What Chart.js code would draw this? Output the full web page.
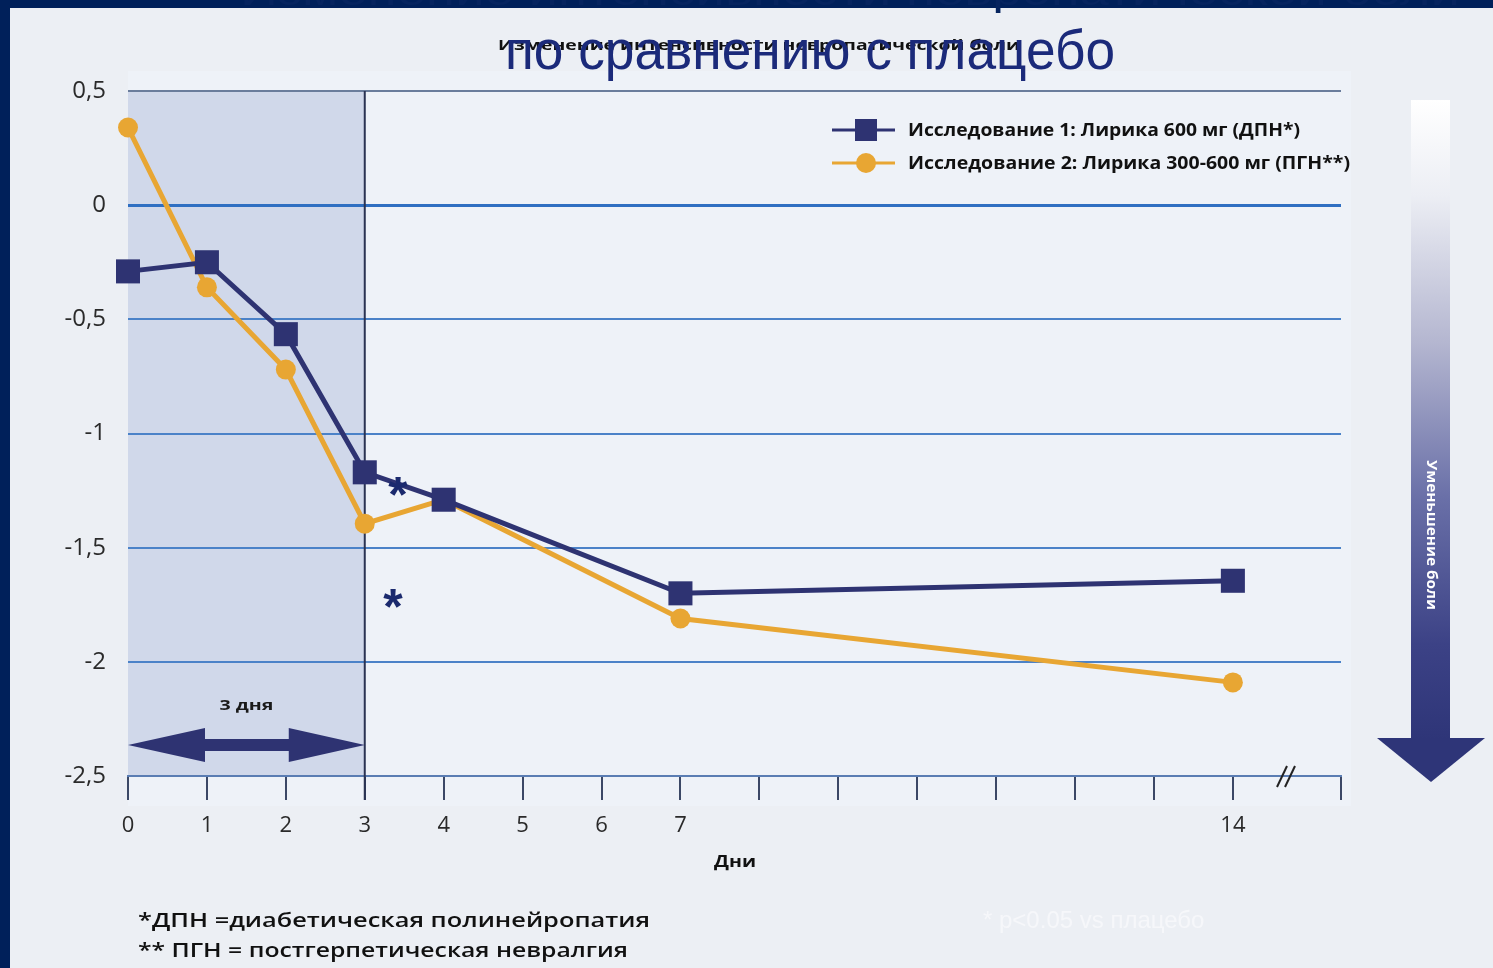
<!DOCTYPE html>
<html>
<head>
<meta charset="utf-8">
<script src="https://cdn.jsdelivr.net/npm/chart.js@4/dist/chart.umd.min.js"></script>
<style>
html,body{margin:0;padding:0;background:#eceff4;overflow:hidden;}
canvas{display:block;}
</style>
</head>
<body>
<canvas id="c" width="1493" height="968" style="width:1493px;height:968px"></canvas>
<script>
// ---- data ----
const days = [0, 1, 2, 3, 4, 7, 14];
const study1 = [-0.29, -0.25, -0.565, -1.17, -1.29, -1.70, -1.645];
const study2 = [0.34, -0.36, -0.72, -1.395, -1.29, -1.81, -2.09];
const seriesNames = ['Исследование 1: Лирика 600 мг (ДПН*)', 'Исследование 2: Лирика 300-600 мг (ПГН**)'];
const xTickPositions = [0,1,2,3,4,5,6,7,8,9,10,11,12,13,14];
const xLabeledDays = [0,1,2,3,4,5,6,7,14];
const xMax = 15.37;
const yTicks = [0.5, 0, -0.5, -1, -1.5, -2, -2.5];
const yTickLabels = ['0,5', '0', '-0,5', '-1', '-1,5', '-2', '-2,5'];
const shadedDays = [0, 3];
const titleSmall = 'Изменение интенсивности невропатической боли';
const titleBig = 'по сравнению с плацебо';
const xAxisTitle = 'Дни';
const shadedLabel = '3 дня';
const arrowLabel = 'Уменьшение боли';
const footnotes = ['*ДПН =диабетическая полинейропатия', '** ПГН = постгерпетическая невралгия'];
const pNote = '* p<0.05 vs плацебо';

const NAVY = '#2e3372';
const ORANGE = '#e8a633';

function fitText(ctx, text, x, y, targetW, align) {
  const w = ctx.measureText(text).width;
  const s = targetW / w;
  ctx.save();
  ctx.translate(x, y);
  ctx.scale(s, 1);
  ctx.textAlign = align || 'left';
  ctx.fillText(text, 0, 0);
  ctx.restore();
}

const decor = {
  id: 'decor',
  beforeDraw(chart) {
    const ctx = chart.ctx;
    const xs = chart.scales.x, ys = chart.scales.y;
    const ca = chart.chartArea;
    ctx.save();
    ctx.fillStyle = '#eceff4';
    ctx.fillRect(0, 0, chart.width, chart.height);
    // plot light panel
    ctx.fillStyle = '#eef2f8';
    ctx.fillRect(ca.left, ca.top - 20, ca.right - ca.left + 10, ca.bottom - ca.top + 50);
    // shaded region
    const x0 = xs.getPixelForValue(shadedDays[0]), x1 = xs.getPixelForValue(shadedDays[1]);
    ctx.fillStyle = '#d0d8ea';
    ctx.fillRect(x0, ys.getPixelForValue(0.5), x1 - x0, ys.getPixelForValue(-2.5) - ys.getPixelForValue(0.5));
    // navy frame
    ctx.fillStyle = '#00205a';
    ctx.fillRect(0, 0, chart.width, 8);
    ctx.fillRect(0, 0, 10, chart.height);
    // hidden slide title in frame
    ctx.fillStyle = '#06245f';
    ctx.font = '40px "Liberation Sans", Arial, sans-serif';
    ctx.textBaseline = 'alphabetic';
    fitText(ctx, 'Изменение интенсивности невропатической боли', 240, 5, 1220, 'left');
    ctx.restore();
  },
  beforeDatasetsDraw(chart) {
    const ctx = chart.ctx;
    const xs = chart.scales.x, ys = chart.scales.y;
    const x0 = xs.getPixelForValue(shadedDays[0]), x1 = xs.getPixelForValue(shadedDays[1]);
    ctx.save();
    // vertical line at day 3
    ctx.strokeStyle = '#2a3352';
    ctx.lineWidth = 2;
    ctx.beginPath();
    ctx.moveTo(x1, ys.getPixelForValue(0.5));
    ctx.lineTo(x1, ys.getPixelForValue(-2.5) + 24);
    ctx.stroke();
    // double arrow
    const ay = 745;
    ctx.fillStyle = NAVY;
    ctx.beginPath();
    ctx.moveTo(x0, ay);
    ctx.lineTo(x0 + 77, ay - 17);
    ctx.lineTo(x0 + 77, ay - 6);
    ctx.lineTo(x1 - 76, ay - 6);
    ctx.lineTo(x1 - 76, ay - 17);
    ctx.lineTo(x1, ay);
    ctx.lineTo(x1 - 76, ay + 17);
    ctx.lineTo(x1 - 76, ay + 6);
    ctx.lineTo(x0 + 77, ay + 6);
    ctx.lineTo(x0 + 77, ay + 17);
    ctx.closePath();
    ctx.fill();
    // 3 дня
    ctx.fillStyle = '#1a1a1a';
    ctx.font = 'bold 14px "Open Sans", sans-serif';
    ctx.textBaseline = 'middle';
    fitText(ctx, shadedLabel, (x0 + x1) / 2, 706, 54, 'center');
    ctx.restore();
  },
  afterDraw(chart) {
    const ctx = chart.ctx;
    ctx.save();
    // titles
    ctx.textBaseline = 'alphabetic';
    ctx.fillStyle = '#111';
    ctx.font = 'bold 15px "Open Sans", sans-serif';
    fitText(ctx, titleSmall, 498, 50, 522, 'left');
    ctx.fillStyle = '#1b2a7a';
    ctx.font = '56px "Liberation Sans", Arial, sans-serif';
    fitText(ctx, titleBig, 505, 69, 610, 'left');

    // legend
    const ly = [130, 163];
    const styles = [
      {c: NAVY, rect: true},
      {c: ORANGE, rect: false}
    ];
    ctx.textBaseline = 'middle';
    for (let i = 0; i < 2; i++) {
      const st = styles[i];
      ctx.strokeStyle = st.c;
      ctx.lineWidth = 3;
      ctx.beginPath();
      ctx.moveTo(832, ly[i]);
      ctx.lineTo(895, ly[i]);
      ctx.stroke();
      ctx.fillStyle = st.c;
      if (st.rect) {
        ctx.fillRect(855, ly[i] - 11, 22, 22);
      } else {
        ctx.beginPath();
        ctx.arc(866, ly[i], 10, 0, Math.PI * 2);
        ctx.fill();
      }
      ctx.fillStyle = '#111';
      ctx.font = 'bold 17px "Open Sans", sans-serif';
      fitText(ctx, seriesNames[i], 908, ly[i] + 1, i === 0 ? 392 : 442, 'left');
    }

    // asterisks
    ctx.fillStyle = '#1b2a6e';
    ctx.font = 'bold 50px "Liberation Sans", Arial, sans-serif';
    ctx.textAlign = 'center';
    ctx.textBaseline = 'middle';
    ctx.fillText('*', 398, 498);
    ctx.fillText('*', 393, 610);

    // axis break
    ctx.strokeStyle = '#222';
    ctx.lineWidth = 2;
    for (const dx of [-4, 4]) {
      ctx.beginPath();
      ctx.moveTo(1281 + dx, 787);
      ctx.lineTo(1291 + dx, 766);
      ctx.stroke();
    }

    // x axis title
    ctx.fillStyle = '#111';
    ctx.font = 'bold 16px "Open Sans", sans-serif';
    fitText(ctx, xAxisTitle, 735, 862, 42, 'center');

    // footnotes
    ctx.font = '600 20px "Open Sans", sans-serif';
    fitText(ctx, footnotes[0], 138, 921, 512, 'left');
    fitText(ctx, footnotes[1], 138, 951, 490, 'left');

    ctx.fillStyle = '#f6f7fa';
    ctx.font = '24px "Liberation Sans", Arial, sans-serif';
    ctx.textAlign = 'left';
    ctx.fillText(pNote, 983, 921);

    // right arrow
    const bx = 1411, bw = 39, btop = 100, bbot = 740;
    const g = ctx.createLinearGradient(0, btop, 0, bbot);
    g.addColorStop(0, '#ffffff');
    g.addColorStop(0.15, '#eceef4');
    g.addColorStop(0.38, '#b4b6d0');
    g.addColorStop(0.62, '#6a70a8');
    g.addColorStop(0.85, '#3c4286');
    g.addColorStop(1, '#2e3578');
    ctx.fillStyle = g;
    ctx.fillRect(bx, btop, bw, bbot - btop);
    ctx.fillStyle = '#2e3578';
    ctx.beginPath();
    ctx.moveTo(1377, 738);
    ctx.lineTo(1485, 738);
    ctx.lineTo(1431, 782);
    ctx.closePath();
    ctx.fill();
    ctx.save();
    ctx.translate(1431, 535);
    ctx.rotate(Math.PI / 2);
    ctx.fillStyle = '#ffffff';
    ctx.font = 'bold 15px "Open Sans", sans-serif';
    ctx.textBaseline = 'middle';
    fitText(ctx, arrowLabel, 0, 0, 150, 'center');
    ctx.restore();
    ctx.restore();
  }
};

const ctx = document.getElementById('c').getContext('2d');
new Chart(ctx, {
  type: 'line',
  data: {
    datasets: [
      {
        label: seriesNames[0],
        data: days.map((d, i) => ({x: d, y: study1[i]})),
        borderColor: NAVY,
        backgroundColor: NAVY,
        borderWidth: 5,
        pointStyle: 'rect',
        pointRadius: 17,
        pointBorderWidth: 0,
        tension: 0,
        clip: false
      },
      {
        label: seriesNames[1],
        data: days.map((d, i) => ({x: d, y: study2[i]})),
        borderColor: ORANGE,
        backgroundColor: ORANGE,
        borderWidth: 5,
        pointStyle: 'circle',
        pointRadius: 10,
        pointBorderWidth: 0,
        tension: 0,
        clip: false
      }
    ]
  },
  options: {
    responsive: false,
    animation: false,
    devicePixelRatio: 1,
    events: [],
    layout: {padding: {left: 10, top: 91, right: 152, bottom: 132}},
    plugins: {legend: {display: false}, tooltip: {enabled: false}},
    scales: {
      x: {
        type: 'linear',
        min: 0,
        max: xMax,
        afterBuildTicks(scale) {
          scale.ticks = xTickPositions.map(v => ({value: v})).concat([{value: xMax}]);
        },
        afterFit(scale) { scale.height = 60; },
        ticks: {
          autoSkip: false,
          maxRotation: 0,
          padding: 13,
          color: '#2a2a2a',
          font: {family: '"Open Sans", sans-serif', size: 22},
          callback: (v) => xLabeledDays.includes(v) ? String(v) : ''
        },
        grid: {drawOnChartArea: false, drawTicks: true, tickLength: 24, color: '#3b4866', lineWidth: 2},
        border: {display: true, color: '#5a7db3', width: 2}
      },
      y: {
        min: -2.5,
        max: 0.5,
        afterBuildTicks(scale) {
          scale.ticks = yTicks.map(v => ({value: v}));
        },
        afterFit(scale) { scale.width = 118; },
        ticks: {
          padding: 22,
          color: '#2a2a2a',
          font: {family: '"Open Sans", sans-serif', size: 24},
          callback: (v) => { const i = yTicks.indexOf(v); return i >= 0 ? yTickLabels[i] : ''; }
        },
        grid: {
          drawTicks: false,
          color: (c) => c.tick.value === 0.5 ? '#6a7d9c' : (c.tick.value === 0 ? '#2f6fc2' : '#4b82c8'),
          lineWidth: (c) => c.tick.value === 0 ? 3 : 2
        },
        border: {display: false}
      }
    }
  },
  plugins: [decor]
});
</script>
</body>
</html>
